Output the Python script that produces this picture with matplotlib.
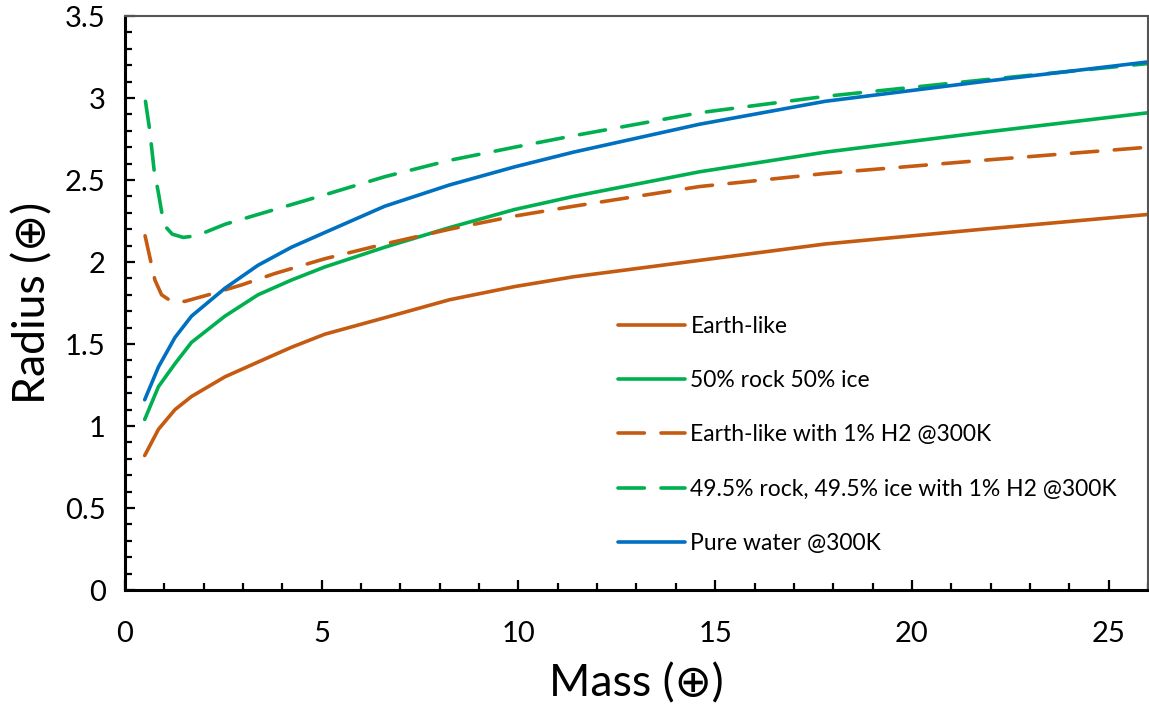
import matplotlib
matplotlib.use("Agg")
import matplotlib.pyplot as plt
from matplotlib.ticker import MultipleLocator, FuncFormatter

plt.rcParams['font.family'] = ['Lato', 'DejaVu Sans']

# ---- data ----
x_main = [0.5, 0.85, 1.27, 1.69, 2.54, 3.38, 4.23, 5.08, 6.6, 8.25, 9.9, 11.4, 14.6, 17.8, 21.8, 26.0]
earth_like = [0.82, 0.98, 1.10, 1.18, 1.30, 1.39, 1.48, 1.56, 1.66, 1.77, 1.85, 1.91, 2.01, 2.11, 2.20, 2.29]
rock_ice = [1.04, 1.24, 1.38, 1.51, 1.67, 1.80, 1.89, 1.97, 2.09, 2.21, 2.32, 2.40, 2.55, 2.67, 2.79, 2.91]
pure_water = [1.16, 1.36, 1.54, 1.67, 1.84, 1.98, 2.09, 2.18, 2.34, 2.47, 2.58, 2.67, 2.84, 2.98, 3.10, 3.22]

x_earth_h2 = [0.51, 0.63, 0.76, 0.93, 1.18, 1.52, 2.12, 2.96, 3.81, 5.08, 6.6, 8.25, 9.9, 11.4, 14.6, 17.8, 21.8, 26.0]
earth_h2 = [2.16, 2.03, 1.89, 1.80, 1.76, 1.76, 1.80, 1.86, 1.93, 2.02, 2.11, 2.20, 2.28, 2.34, 2.46, 2.54, 2.62, 2.70]

x_rockice_h2 = [0.52, 0.63, 0.74, 0.85, 0.95, 1.05, 1.2, 1.48, 1.82, 2.54, 3.38, 4.23, 5.08, 6.6, 8.25, 9.9, 11.4, 14.6, 17.8, 21.8, 26.0]
rockice_h2 = [2.98, 2.80, 2.56, 2.42, 2.28, 2.21, 2.17, 2.15, 2.16, 2.23, 2.29, 2.35, 2.41, 2.52, 2.62, 2.70, 2.77, 2.91, 3.01, 3.11, 3.21]

labels = ["Earth-like", "50% rock 50% ice", "Earth-like with 1% H2 @300K",
          "49.5% rock, 49.5% ice with 1% H2 @300K", "Pure water @300K"]

orange = "#C55A11"
green = "#00B050"
blue = "#0070C0"

fig = plt.figure(figsize=(11.49, 7.05), dpi=100)
ax = fig.add_axes([0.1088, 0.1631, 0.8903, 0.8142])

lw = 2.6
dash = (0, (7.3, 4.6))
ax.plot(x_main, earth_like, color=orange, lw=lw, label=labels[0], solid_capstyle='round')
ax.plot(x_main, rock_ice, color=green, lw=lw, label=labels[1], solid_capstyle='round')
ax.plot(x_earth_h2, earth_h2, color=orange, lw=lw, ls=dash, label=labels[2], dash_capstyle='round')
ax.plot(x_rockice_h2, rockice_h2, color=green, lw=lw, ls=dash, label=labels[3], dash_capstyle='round')
ax.plot(x_main, pure_water, color=blue, lw=lw, label=labels[4], solid_capstyle='round')

ax.set_xlim(0, 26)
ax.set_ylim(0, 3.5)
ax.xaxis.set_major_locator(MultipleLocator(5))
ax.xaxis.set_minor_locator(MultipleLocator(1))
ax.yaxis.set_major_locator(MultipleLocator(0.5))
ax.yaxis.set_minor_locator(MultipleLocator(0.1))
ax.yaxis.set_major_formatter(FuncFormatter(lambda v, p: f"{v:g}"))

ax.tick_params(which='major', direction='in', length=7, width=1.6, labelsize=21)
ax.tick_params(which='minor', direction='in', length=5, width=1.6)
ax.tick_params(axis='x', which='major', pad=22)
ax.tick_params(axis='y', which='major', pad=14)

for s in ['left', 'bottom']:
    ax.spines[s].set_linewidth(2.2)
    ax.spines[s].set_color('black')
for s in ['top', 'right']:
    ax.spines[s].set_linewidth(1.5)
    ax.spines[s].set_color('#555555')

ax.set_xlabel("Mass (\u2295)", fontsize=32, labelpad=12)
ax.set_ylabel("Radius (\u2295)", fontsize=32, labelpad=8)

leg = ax.legend(loc='lower left', bbox_to_anchor=(0.462, 0.027), frameon=False,
                fontsize=16.5, handlelength=2.9, handletextpad=0.25, labelspacing=1.45)

fig.savefig("out.png", dpi=100)
